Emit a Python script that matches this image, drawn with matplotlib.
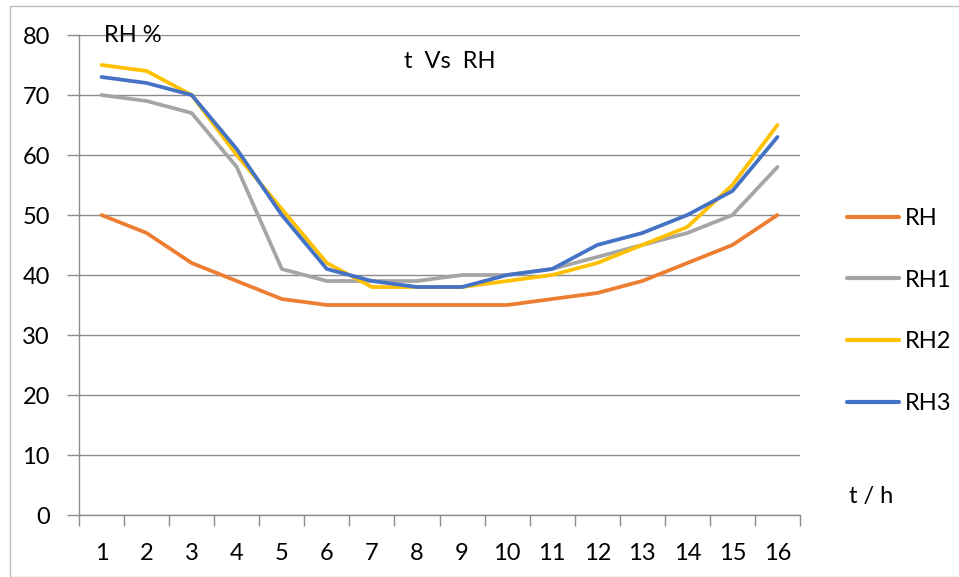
import numpy as np
import matplotlib.pyplot as plt
from matplotlib.patches import Rectangle

# Data
hours = list(range(1, 17))
rh = [50, 47, 42, 39, 36, 35, 35, 35, 35, 35, 36, 37, 39, 42, 45, 50]
rh1 = [70, 69, 67, 58, 41, 39, 39, 39, 40, 40, 41, 43, 45, 47, 50, 58]
rh2 = [75, 74, 70, 60, 51, 42, 38, 38, 38, 39, 40, 42, 45, 48, 55, 65]
rh3 = [73, 72, 70, 61, 50, 41, 39, 38, 38, 40, 41, 45, 47, 50, 54, 63]
series_names = ["RH", "RH1", "RH2", "RH3"]
colors = ["#ED7D31", "#A5A5A5", "#FFC000", "#4472C4"]

plt.rcParams["font.family"] = ["Lato", "DejaVu Sans"]
fs = 17

W, H = 959, 577
fig = plt.figure(figsize=(W / 100, H / 100), dpi=100)
ax = fig.add_axes([79 / W, 1 - 515 / H, (800 - 79) / W, (515 - 35) / H])

x = np.arange(len(hours))
for vals, name, c in zip([rh, rh1, rh2, rh3], series_names, colors):
    ax.plot(x, vals, color=c, linewidth=2.7, label=name, solid_capstyle="round")

ax.set_xlim(-0.5, len(hours) - 0.5)
ax.set_ylim(0, 80)
ax.set_yticks(range(0, 81, 10))
ax.yaxis.grid(True, color="#8c8c8c", linewidth=1)
ax.set_axisbelow(True)

ax.set_xticks(x)
ax.set_xticklabels([str(h) for h in hours])
ax.set_xticks(np.arange(-0.5, len(hours), 1), minor=True)
ax.tick_params(axis="x", which="major", length=0, pad=20, labelsize=fs)
ax.tick_params(axis="x", which="minor", length=8, color="#8c8c8c", width=1)
ax.tick_params(axis="y", length=9, color="#8c8c8c", width=1, pad=12, labelsize=fs)

for s in ["top", "right"]:
    ax.spines[s].set_visible(False)
for s in ["left", "bottom"]:
    ax.spines[s].set_color("#8c8c8c")
    ax.spines[s].set_linewidth(1)

fig.text(104 / W, 1 - 35 / H, "RH %", fontsize=fs, va="center", ha="left")
fig.text(450 / W, 1 - 62 / H, "t  Vs  RH", fontsize=fs, va="center", ha="center")
fig.text(871 / W, 1 - 497 / H, "t / h", fontsize=fs, va="center", ha="center")

leg = fig.legend(loc="center left", bbox_to_anchor=(826 / W, 1 - 311 / H), frameon=False,
                 fontsize=fs, handlelength=2.2, handletextpad=0.25, labelspacing=1.72)
for line in leg.get_lines():
    line.set_linewidth(3)

fig.patches.append(Rectangle((9.5 / W, 0), 1.0, 1 - 6 / H, transform=fig.transFigure,
                             fill=False, edgecolor="#bfbfbf", linewidth=1))

fig.savefig("out.png", dpi=100)
